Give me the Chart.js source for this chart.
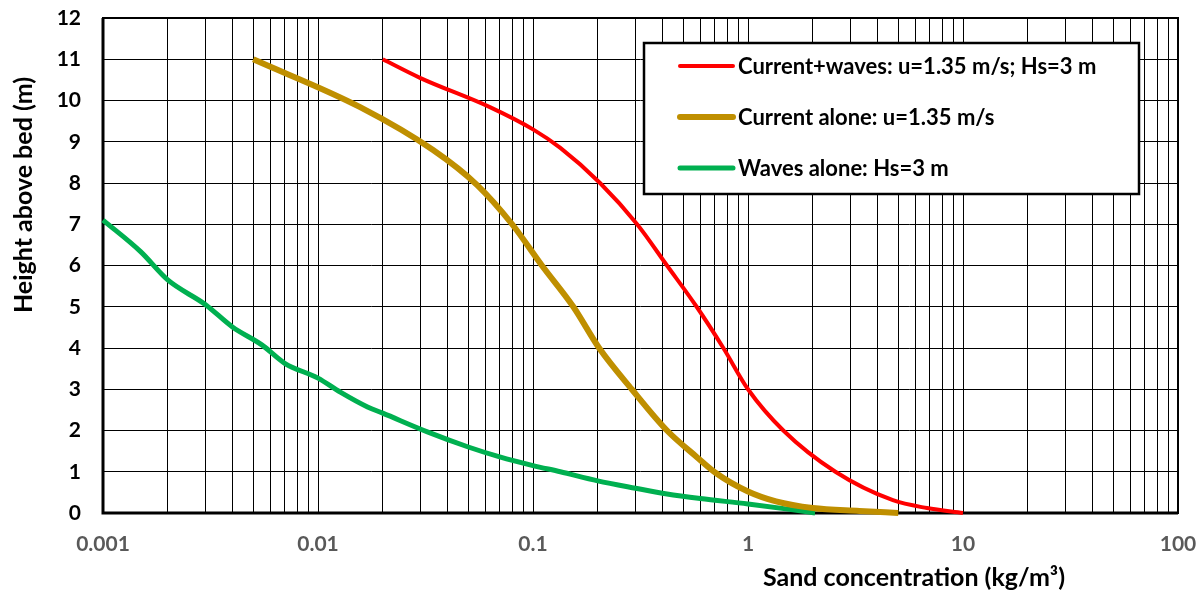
<!DOCTYPE html>
<html>
<head>
<meta charset="utf-8">
<script src="https://cdn.jsdelivr.net/npm/chart.js@4.4.0/dist/chart.umd.min.js"></script>
<style>
  html, body { margin: 0; padding: 0; background: #fff; }
  #wrap { width: 1201px; height: 596px; }
</style>
</head>
<body>
<div id="wrap"><canvas id="sandChart"></canvas></div>
<script>
// data
const seriesLabels = ['Current+waves: u=1.35 m/s; Hs=3 m', 'Current alone: u=1.35 m/s', 'Waves alone: Hs=3 m'];
const seriesColors = ['#FF0000', '#BF8F00', '#00B050'];
const seriesWidths = [4, 6, 5];

const combinedConc = [0.02, 0.0298, 0.063, 0.1, 0.134, 0.205, 0.305, 0.42, 0.577, 0.768, 1.0, 1.46, 2.55, 4.72, 6.8, 10];
const combinedHeight = [11, 10.55, 9.84, 9.3, 8.85, 8.0, 7.0, 6.0, 5.0, 4.0, 3.0, 2.0, 1.0, 0.31, 0.12, 0];

const currentConc = [0.005, 0.0157, 0.0343, 0.055, 0.08, 0.11, 0.154, 0.203, 0.288, 0.42, 0.577, 0.717, 1.0, 1.35, 2.0, 3.3, 5];
const currentHeight = [11, 9.84, 8.8, 7.95, 7.0, 6.0, 5.0, 4.0, 3.0, 2.0, 1.36, 0.95, 0.52, 0.28, 0.12, 0.05, 0];

const wavesConc = [0.001, 0.0015, 0.002, 0.003, 0.004, 0.0055, 0.007, 0.01, 0.0127, 0.017, 0.02, 0.0325, 0.05, 0.07, 0.1, 0.134, 0.2, 0.3, 0.42, 0.6, 1, 1.5, 2.05];
const wavesHeight = [7.1, 6.33, 5.65, 5.05, 4.51, 4.07, 3.63, 3.27, 2.93, 2.57, 2.42, 1.96, 1.6, 1.36, 1.15, 1.0, 0.78, 0.6, 0.46, 0.35, 0.22, 0.1, 0];

const xDecades = [0.001, 0.01, 0.1, 1, 10, 100];
const yTicks = [0, 1, 2, 3, 4, 5, 6, 7, 8, 9, 10, 11, 12];

const FONT = 'Lato, "Open Sans", sans-serif';

function toPoints(xs, ys) {
    return xs.map((x, i) => ({ x: x, y: ys[i] }));
}

// grid lines at 1..9 of every decade
const xGridValues = [];
xDecades.forEach((d, i) => {
    if (i === xDecades.length - 1) { xGridValues.push(d); return; }
    for (let m = 1; m <= 9; m++) xGridValues.push(parseFloat((d * m).toPrecision(3)));
});

const allSeries = [
    toPoints(combinedConc, combinedHeight),
    toPoints(currentConc, currentHeight),
    toPoints(wavesConc, wavesHeight)
];

function noOverhang(scale) {
    scale.paddingLeft = 0;
    scale.paddingRight = 0;
    scale.paddingTop = 0;
    scale.paddingBottom = 0;
}

const frameAndTitles = {
    id: 'frameAndTitles',
    beforeDatasetsDraw(chart) {
        const { ctx, chartArea: a } = chart;
        ctx.save();
        ctx.strokeStyle = '#000';
        ctx.lineWidth = 2;
        ctx.strokeRect(a.left, a.top, a.right - a.left, a.bottom - a.top);
        ctx.lineWidth = 3;
        ctx.beginPath();
        ctx.moveTo(a.left, a.top);
        ctx.lineTo(a.left, a.bottom);
        ctx.lineTo(a.right, a.bottom);
        ctx.stroke();
        ctx.restore();
    },
    afterDraw(chart) {
        const { ctx } = chart;
        ctx.save();
        ctx.fillStyle = '#000';
        ctx.font = 'bold 25px ' + FONT;
        ctx.textAlign = 'center';
        ctx.textBaseline = 'middle';
        ctx.fillText('Sand concentration (kg/m³)', 914, 578);
        ctx.translate(24, 195);
        ctx.rotate(-Math.PI / 2);
        ctx.fillText('Height above bed (m)', 0, 0);
        ctx.restore();

        // legend box
        ctx.save();
        ctx.fillStyle = '#fff';
        ctx.fillRect(644, 43, 495, 151);
        ctx.strokeStyle = '#000';
        ctx.lineWidth = 2.5;
        ctx.strokeRect(644, 43, 495, 151);
        const rows = [66, 117, 168];
        ctx.font = 'bold 22px ' + FONT;
        ctx.textAlign = 'left';
        ctx.textBaseline = 'middle';
        chart.data.datasets.forEach((ds, i) => {
            ctx.strokeStyle = ds.borderColor;
            ctx.lineWidth = ds.borderWidth;
            ctx.lineCap = 'round';
            ctx.beginPath();
            ctx.moveTo(680, rows[i]);
            ctx.lineTo(733, rows[i]);
            ctx.stroke();
            ctx.fillStyle = '#000';
            ctx.fillText(ds.label, 738, rows[i] + 1);
        });
        ctx.restore();
    }
};

const ctx_sand = document.getElementById('sandChart');

new Chart(ctx_sand, {
    type: 'scatter',
    data: {
        datasets: allSeries.map((pts, i) => ({
            label: seriesLabels[i],
            data: pts,
            showLine: true,
            borderColor: seriesColors[i],
            backgroundColor: seriesColors[i],
            borderWidth: seriesWidths[i],
            pointRadius: 0,
            cubicInterpolationMode: 'monotone',
            clip: false
        }))
    },
    options: {
        responsive: true,
        maintainAspectRatio: false,
        animation: false,
        layout: { padding: { top: 18, right: 23, left: 0, bottom: 0 } },
        scales: {
            x: {
                type: 'logarithmic',
                min: 0.001,
                max: 100,
                afterBuildTicks: (scale) => {
                    scale.ticks = xGridValues.map(v => ({ value: v }));
                },
                afterFit: (scale) => { scale.height = 83; noOverhang(scale); },
                ticks: {
                    autoSkip: false,
                    maxRotation: 0,
                    padding: 19,
                    color: '#595959',
                    font: { family: FONT, size: 21, weight: 'bold' },
                    callback: (value) => xDecades.includes(value) ? String(value) : ''
                },
                grid: { color: '#000', lineWidth: 1, drawTicks: false },
                border: { display: false }
            },
            y: {
                min: 0,
                max: 12,
                afterBuildTicks: (scale) => {
                    scale.ticks = yTicks.map(v => ({ value: v }));
                },
                afterFit: (scale) => { scale.width = 103; noOverhang(scale); },
                ticks: {
                    padding: 22,
                    color: '#000',
                    font: { family: FONT, size: 21, weight: 'bold' }
                },
                grid: { color: '#000', lineWidth: 1, drawTicks: false },
                border: { display: false }
            }
        },
        plugins: {
            legend: { display: false },
            tooltip: { enabled: false }
        }
    },
    plugins: [frameAndTitles]
});
</script>
</body>
</html>
